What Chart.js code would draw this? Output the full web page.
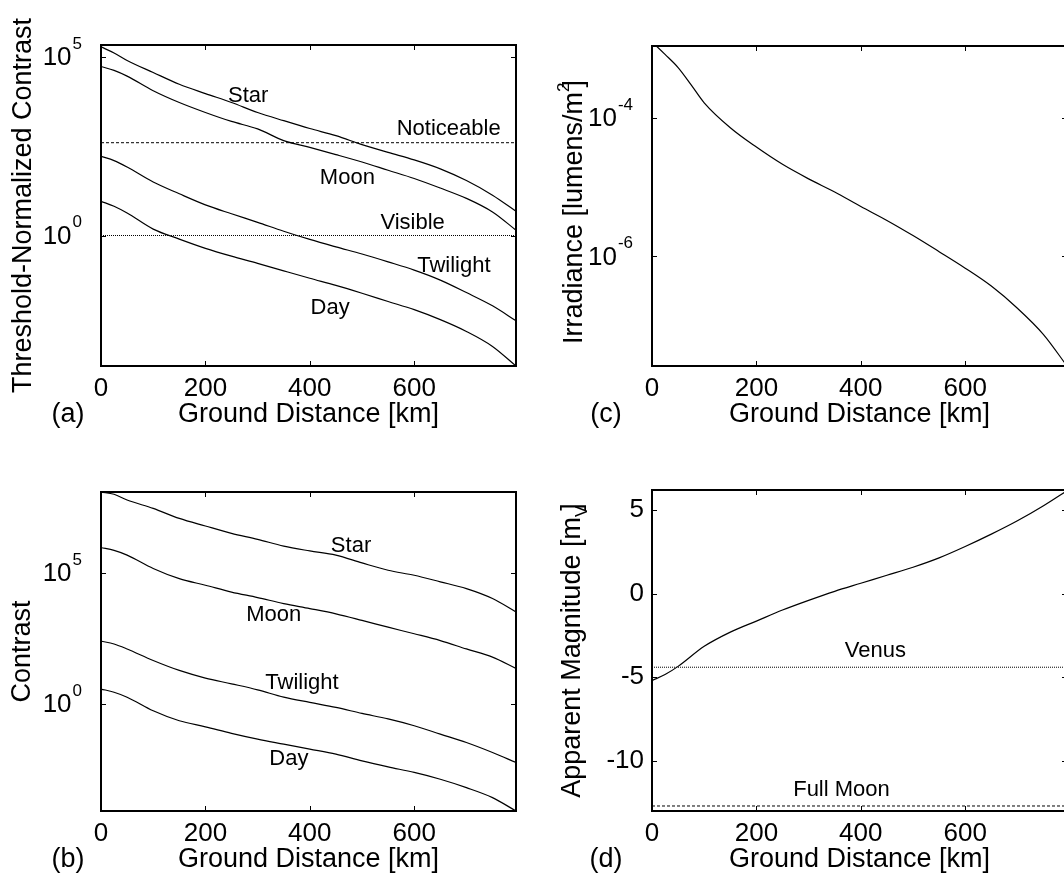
<!DOCTYPE html>
<html>
<head>
<meta charset="utf-8">
<script src="https://cdn.jsdelivr.net/npm/chart.js@4.4.1/dist/chart.umd.min.js"></script>
<style>
  html, body { margin: 0; padding: 0; background: #fff; }
  #fig { position: relative; width: 1064px; height: 879px; overflow: hidden; background: #fff; }
  canvas { position: absolute; }
</style>
</head>
<body>
<div id="fig">
  <canvas id="pa" width="532" height="440" style="left:0;top:0;width:532px;height:440px"></canvas>
  <canvas id="pb" width="532" height="439" style="left:0;top:440px;width:532px;height:439px"></canvas>
  <canvas id="pc" width="560" height="440" style="left:532px;top:0;width:560px;height:440px"></canvas>
  <canvas id="pd" width="560" height="439" style="left:532px;top:440px;width:560px;height:439px"></canvas>
</div>
<script>
// ground distance samples [km]
const distance = [0, 25, 50, 100, 150, 200, 250, 300, 350, 400, 450, 500, 550, 600, 650, 700, 750, 795];
const distanceIrr = [0, 25, 50, 75, 100, 150, 200, 250, 300, 350, 400, 450, 500, 550, 600, 650, 700, 750, 795];
const distanceTicks = [0, 200, 400, 600];
const xMax = 795;

// (a) threshold-normalized contrast
const starNorm = [1.95e5, 1.32e5, 8.13e4, 3.72e4, 1.74e4, 9.55e3, 5.37e3, 2.82e3, 1.66e3, 1.0e3, 631, 355, 214, 132, 74.1, 34.7, 13.5, 4.79];
const moonNorm = [5.50e4, 4.27e4, 2.95e4, 1.15e4, 5.37e3, 2.82e3, 1.58e3, 977, 457, 295, 186, 115, 67.6, 39.8, 21.4, 11.0, 4.57, 1.41];
const twilightNorm = [166, 126, 83.2, 31.6, 14.8, 7.24, 4.07, 2.34, 1.32, 0.776, 0.479, 0.302, 0.182, 0.107, 0.0562, 0.0251, 0.0107, 0.00407];
const dayNorm = [9.12, 6.61, 4.27, 1.51, 0.794, 0.437, 0.263, 0.166, 0.102, 0.0631, 0.0398, 0.0240, 0.0141, 0.00832, 0.00437, 0.00204, 7.76e-4, 2.19e-4];
const noticeable = 400;
const visible = 1;

// (b) contrast
const starContrast = [1.20e8, 1.0e8, 6.03e7, 2.88e7, 1.20e7, 6.17e6, 3.24e6, 1.91e6, 1.05e6, 6.92e5, 4.79e5, 2.40e5, 1.26e5, 8.13e4, 4.57e4, 2.51e4, 1.05e4, 3.24e3];
const moonContrast = [9.33e5, 7.24e5, 4.79e5, 1.48e5, 6.03e4, 3.39e4, 1.86e4, 1.15e4, 6.76e3, 4.37e3, 2.75e3, 1.55e3, 851, 479, 263, 126, 61.7, 22.9];
const twilightContrast = [251, 195, 126, 45.7, 19.1, 9.77, 5.89, 3.47, 1.82, 1.15, 0.741, 0.437, 0.269, 0.148, 0.0708, 0.0339, 0.0141, 0.00589];
const dayContrast = [3.72, 2.82, 1.82, 0.550, 0.229, 0.135, 0.0759, 0.0457, 0.0295, 0.0191, 0.0123, 0.00676, 0.00398, 0.00245, 0.00135, 6.46e-4, 2.69e-4, 8.3e-5];

// (c) irradiance [lumens/m^2]
const irradiance = [1.26e-3, 8.32e-4, 5.37e-4, 3.02e-4, 1.66e-4, 7.24e-5, 3.80e-5, 2.14e-5, 1.32e-5, 8.51e-6, 5.25e-6, 3.31e-6, 2.00e-6, 1.17e-6, 6.76e-7, 3.72e-7, 1.78e-7, 7.41e-8, 2.6e-8];

// (d) apparent magnitude
const magnitude = [-5.2, -4.84, -4.35, -3.15, -2.30, -1.64, -0.98, -0.40, 0.14, 0.62, 1.10, 1.58, 2.14, 2.82, 3.56, 4.36, 5.26, 6.16];
const venus = -4.4;
const fullMoon = -12.7;
const magnitudeTicks = [-10, -5, 0, 5];

// decade tick labels (exponents of 10)
const normExponents = [0, 5];
const contrastExponents = [0, 5];
const irradianceExponents = [-4, -6];

// curve labels, in data coordinates
const notesA = [
  { text: "Star", km: 282, value: 8.3e3 },
  { text: "Noticeable", km: 666, value: 1.0e3 },
  { text: "Moon", km: 472, value: 41 },
  { text: "Visible", km: 597, value: 2.24 },
  { text: "Twilight", km: 676, value: 0.141 },
  { text: "Day", km: 439, value: 9.1e-3 }
];
const notesB = [
  { text: "Star", km: 479, value: 1.05e6 },
  { text: "Moon", km: 331, value: 2.6e3 },
  { text: "Twilight", km: 385, value: 6.3 },
  { text: "Day", km: 360, value: 7.9e-3 }
];
const notesD = [
  { text: "Venus", km: 428, value: -3.44 },
  { text: "Full Moon", km: 363, value: -11.74 }
];

const FONT = "'Liberation Sans', Arial, Helvetica, sans-serif";
Chart.defaults.font.family = FONT;
Chart.defaults.color = "#000";

function curve(xs, ys, dash) {
  return {
    data: xs.map((x, i) => ({ x: x, y: ys[i] })),
    borderColor: "#000",
    borderWidth: dash ? 1 : 1.2,
    borderDash: dash || [],
    pointRadius: 0,
    cubicInterpolationMode: "monotone",
    fill: false
  };
}

function level(v, dash) {
  return curve([0, xMax], [v, v], dash);
}

function drawRich(ctx, parts, cx, cy) {
  ctx.save();
  ctx.translate(cx, cy);
  ctx.rotate(-Math.PI / 2);
  ctx.textAlign = "left";
  ctx.textBaseline = "middle";
  let w = 0;
  parts.forEach(p => {
    ctx.font = p.size + "px " + FONT;
    w += ctx.measureText(p.text).width + (p.dx || 0);
  });
  let px = -w / 2;
  parts.forEach(p => {
    ctx.font = p.size + "px " + FONT;
    px += p.dx || 0;
    ctx.fillText(p.text, px, p.dy || 0);
    px += ctx.measureText(p.text).width;
  });
  ctx.restore();
}

function drawPower(ctx, exp, xRight, yc) {
  const e = String(exp);
  ctx.textAlign = "left";
  ctx.textBaseline = "middle";
  ctx.font = "26px " + FONT;
  const wb = ctx.measureText("10").width;
  ctx.font = "17px " + FONT;
  const we = ctx.measureText(e).width;
  const x0 = xRight - wb - we - 1;
  ctx.font = "26px " + FONT;
  ctx.fillText("10", x0, yc + 1);
  ctx.font = "17px " + FONT;
  ctx.fillText(e, x0 + wb + 1, yc - 13);
}

// matlab-like box, inward ticks, titles and curve labels
const frame = {
  id: "frame",
  afterDraw(chart, args, o) {
    const { ctx, chartArea: a, scales: { x, y } } = chart;
    ctx.save();
    ctx.fillStyle = "#000";
    ctx.strokeStyle = "#000";

    ctx.lineWidth = 2;
    ctx.strokeRect(a.left, a.top, a.right - a.left, a.bottom - a.top);

    ctx.lineWidth = 1;
    ctx.beginPath();
    x.ticks.forEach(t => {
      const p = Math.round(x.getPixelForValue(t.value)) + 0.5;
      ctx.moveTo(p, a.bottom); ctx.lineTo(p, a.bottom - 5);
      ctx.moveTo(p, a.top); ctx.lineTo(p, a.top + 5);
    });
    y.ticks.forEach(t => {
      const p = Math.round(y.getPixelForValue(t.value)) + 0.5;
      ctx.moveTo(a.left, p); ctx.lineTo(a.left + 5, p);
      ctx.moveTo(a.right, p); ctx.lineTo(a.right - 5, p);
    });
    ctx.stroke();

    (o.powers || []).forEach(e => drawPower(ctx, e, a.left - 19, y.getPixelForValue(Math.pow(10, e))));

    ctx.font = "22px " + FONT;
    ctx.textAlign = "center";
    ctx.textBaseline = "middle";
    (o.notes || []).forEach(n => ctx.fillText(n.text, x.getPixelForValue(n.km), y.getPixelForValue(n.value)));

    ctx.font = "27px " + FONT;
    ctx.fillText("Ground Distance [km]", (a.left + a.right) / 2, a.bottom + 49);
    ctx.fillText(o.letter, o.letterX, a.bottom + 49);

    drawRich(ctx, o.yTitle, o.yTitleX, (a.top + a.bottom) / 2 + (o.yTitleShift || 0));
    ctx.restore();
  }
};

function panel(id, area, datasets, yScale, frameOpts) {
  const canvas = document.getElementById(id);
  const W = canvas.width, H = canvas.height;
  const y = Object.assign({
    grid: { display: false, drawTicks: false },
    border: { display: false },
    afterFit: s => { s.width = area[0]; }
  }, yScale);
  return new Chart(canvas, {
    type: "line",
    data: { datasets: datasets },
    options: {
      responsive: false,
      animation: false,
      events: [],
      layout: { padding: { left: 0, top: area[1], right: W - area[2], bottom: 0 } },
      plugins: { legend: { display: false }, tooltip: { enabled: false }, frame: frameOpts },
      scales: {
        x: {
          type: "linear", min: 0, max: xMax,
          grid: { display: false, drawTicks: false },
          border: { display: false },
          afterBuildTicks: s => { s.ticks = distanceTicks.map(v => ({ value: v })); },
          afterFit: s => { s.height = H - area[3]; },
          ticks: { font: { size: 26 }, color: "#000", padding: 7, maxRotation: 0, autoSkip: false }
        },
        y: y
      }
    },
    plugins: [frame]
  });
}

function logAxis(min, max, exps) {
  return {
    type: "logarithmic", min: min, max: max,
    afterBuildTicks: s => { s.ticks = exps.map(e => ({ value: Math.pow(10, e) })); },
    ticks: { display: false }
  };
}

// (a)
panel("pa", [101, 45, 516, 366], [
  curve(distance, starNorm), curve(distance, moonNorm),
  curve(distance, twilightNorm), curve(distance, dayNorm),
  level(noticeable, [3, 2]), level(visible, [1, 1])
], logAxis(2.19e-4, 2.2e5, normExponents), {
  powers: normExponents, notes: notesA, letter: "(a)", letterX: 68,
  yTitle: [{ text: "Threshold-Normalized Contrast", size: 27 }], yTitleX: 24
});

// (b)
panel("pb", [101, 52, 516, 371], [
  curve(distance, starContrast), curve(distance, moonContrast),
  curve(distance, twilightContrast), curve(distance, dayContrast)
], logAxis(8.3e-5, 1.22e8, contrastExponents), {
  powers: contrastExponents, notes: notesB, letter: "(b)", letterX: 68,
  yTitle: [{ text: "Contrast", size: 27 }], yTitleX: 23
});

// (c)
panel("pc", [120, 46, 535, 366], [
  curve(distanceIrr, irradiance)
], logAxis(2.6e-8, 1.1e-3, irradianceExponents), {
  powers: irradianceExponents, notes: [], letter: "(c)", letterX: 74,
  yTitle: [
    { text: "Irradiance [lumens/m", size: 27 },
    { text: "2", size: 17, dy: -11 },
    { text: "]", size: 27, dx: -5 }
  ], yTitleX: 43, yTitleShift: 6
});

// (d)
panel("pd", [120, 50, 535, 371], [
  curve(distance, magnitude),
  level(venus, [1, 1]), level(fullMoon, [3, 2])
], {
  type: "linear", min: -13, max: 6.2,
  afterBuildTicks: s => { s.ticks = magnitudeTicks.map(v => ({ value: v })); },
  ticks: { font: { size: 26 }, color: "#000", padding: 8 }
}, {
  notes: notesD, letter: "(d)", letterX: 74,
  yTitle: [
    { text: "Apparent Magnitude [m", size: 27 },
    { text: "V", size: 17, dy: 9 },
    { text: "]", size: 27, dx: -5 }
  ], yTitleX: 41
});
</script>
</body>
</html>
